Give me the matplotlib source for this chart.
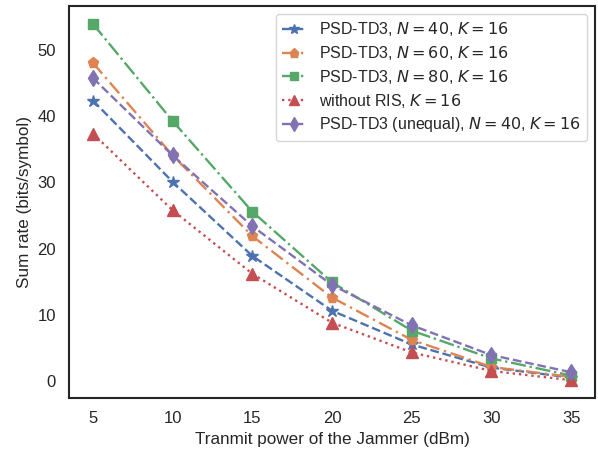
import numpy as np
import matplotlib
matplotlib.use("Agg")
import matplotlib.pyplot as plt
import seaborn as sns

sns.set_theme(style="white")
plt.rcParams['font.family'] = ['Liberation Sans', 'DejaVu Sans']

power = [5, 10, 15, 20, 25, 30, 35]

# sum rate per scheme
n40 = [42.4, 30.1, 18.9, 10.6, 5.5, 2.0, 0.5]
n60 = [48.1, 34.1, 21.9, 12.6, 6.2, 2.1, 0.6]
n80 = [54.0, 39.3, 25.6, 14.9, 7.6, 3.4, 0.8]
no_ris = [37.4, 25.8, 16.2, 8.8, 4.3, 1.5, 0.1]
unequal = [45.8, 34.1, 23.4, 14.5, 8.4, 3.9, 1.3]

labels = [
    r"PSD-TD3, $N=40$, $K=16$",
    r"PSD-TD3, $N=60$, $K=16$",
    r"PSD-TD3, $N=80$, $K=16$",
    r"without RIS, $K=16$",
    r"PSD-TD3 (unequal), $N=40$, $K=16$",
]

colors = sns.color_palette("deep")

fig = plt.figure(figsize=(5.98, 4.53), dpi=100)
ax = fig.add_axes([69 / 598, 55 / 453, 526 / 598, 392 / 453])

lw = 1.7
ax.plot(power, n40, linestyle="--", lw=lw, marker="*", markersize=9, color=colors[0], label=labels[0])
ax.plot(power, n60, linestyle=(0, (6, 2, 1, 2)), lw=lw, marker="p", markersize=8, color=colors[1], label=labels[1])
ax.plot(power, n80, linestyle="-.", lw=lw, marker="s", markersize=7, color=colors[2], label=labels[2])
ax.plot(power, no_ris, linestyle=":", lw=lw, marker="^", markersize=8, color=colors[3], label=labels[3])
ax.plot(power, unequal, linestyle="--", lw=lw, marker="d", markersize=8, color=colors[4], label=labels[4])

ax.set_xticks(power)
ax.set_yticks([0, 10, 20, 30, 40, 50])
ax.tick_params(labelsize=12)
ax.set_xlabel("Tranmit power of the Jammer (dBm)", fontsize=12.3)
ax.set_ylabel("Sum rate (bits/symbol)", fontsize=12.3)
for s in ax.spines.values():
    s.set_linewidth(1.5)
    s.set_color("#262626")

ax.legend(loc="upper right", fontsize=11.5, handlelength=1.5, labelspacing=0.36,
          borderaxespad=0.5, markerscale=0.85)

fig.savefig("out.png", dpi=100)
